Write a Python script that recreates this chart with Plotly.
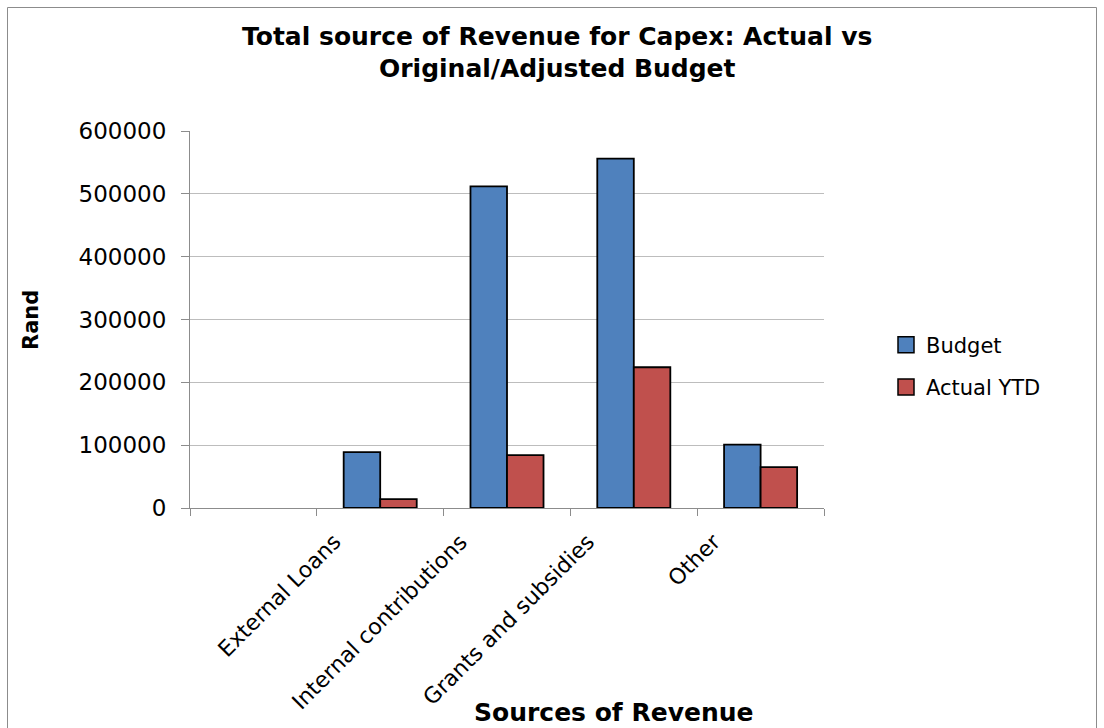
import plotly.graph_objects as go

# Revenue sources for capital expenditure (Rand); the first slot is left empty
categories = [" ", "External Loans", "Internal contributions", "Grants and subsidies", "Other"]
budget = [None, 89000, 512000, 556000, 101000]
actual_ytd = [None, 14000, 84000, 224000, 65000]
y_ticks = [0, 100000, 200000, 300000, 400000, 500000, 600000]

BLUE = "#4F81BD"
RED = "#C0504D"
GRID = "#BDBDBD"

W, H = 1104, 728
L, R, T, B = 190, 280, 131, 220
PW, PH = W - L - R, H - T - B


def px_x(px):
    return (px - L) / PW


def px_y(py):
    return (H - B - py) / PH


fig = go.Figure()
fig.add_trace(go.Bar(x=categories, y=budget, name="Budget", marker=dict(color=BLUE, line=dict(color="black", width=1.8)), showlegend=False))
fig.add_trace(go.Bar(x=categories, y=actual_ytd, name="Actual YTD", marker=dict(color=RED, line=dict(color="black", width=1.8)), showlegend=False))

# legend entries with larger square swatches
for name, col in [("Budget", BLUE), ("Actual YTD", RED)]:
    fig.add_trace(go.Scatter(x=[None], y=[None], mode="markers", name=name, legendgroup=name,
                             marker=dict(symbol="square", size=16, color=col, line=dict(color="black", width=1.5))))

ytick_font = dict(family="DejaVu Sans", size=23, color="black")
xtick_font = dict(family="DejaVu Sans", size=22, color="black")

fig.update_layout(
    width=W, height=H,
    margin=dict(l=L, r=R, t=T, b=B),
    paper_bgcolor="white", plot_bgcolor="white",
    barmode="group", bargap=0.424, bargroupgap=0,
    showlegend=True,
    legend=dict(x=px_x(886), y=px_y(366), xanchor="left", yanchor="middle",
                font=dict(family="DejaVu Sans", size=21, color="black"),
                tracegroupgap=12, bgcolor="rgba(0,0,0,0)"),
    xaxis=dict(type="category", categoryorder="array", categoryarray=categories,
               range=[-0.5, len(categories) - 0.5], showticklabels=False,
               tickson="boundaries", ticks="outside", ticklen=7, tickcolor="#8c8c8c",
               showline=True, linecolor="#8c8c8c", linewidth=1, showgrid=False, zeroline=False),
    yaxis=dict(range=[0, 600000], tickvals=y_ticks, tickformat="d", tickfont=ytick_font,
               ticks="outside", ticklen=8, tickcolor="#8c8c8c", ticklabelstandoff=10,
               showgrid=True, gridcolor=GRID, gridwidth=1,
               showline=True, linecolor="#8c8c8c", linewidth=1, zeroline=False),
)

title_font = dict(family="DejaVu Sans", size=25, color="black")
annotations = [
    dict(text="<b>Total source of Revenue for Capex: Actual vs</b>", x=px_x(557), y=px_y(36),
         xref="paper", yref="paper", xanchor="center", yanchor="middle", showarrow=False, font=title_font),
    dict(text="<b>Original/Adjusted Budget</b>", x=px_x(557), y=px_y(69),
         xref="paper", yref="paper", xanchor="center", yanchor="middle", showarrow=False, font=title_font),
    dict(text="<b>Sources of Revenue</b>", x=px_x(613), y=px_y(712),
         xref="paper", yref="paper", xanchor="center", yanchor="middle", showarrow=False,
         font=dict(family="DejaVu Sans", size=25, color="black")),
    dict(text="<b>Rand</b>", x=px_x(31), y=px_y(320), textangle=-90,
         xref="paper", yref="paper", xanchor="center", yanchor="middle", showarrow=False,
         font=dict(family="DejaVu Sans", size=21, color="black")),
]

# slanted category labels
for i, cat in enumerate(categories):
    if not cat.strip():
        continue
    annotations.append(dict(text=cat, x=i - 0.25, y=px_y(526), xref="x", yref="paper",
                            xanchor="right", yanchor="top", textangle=-45, showarrow=False,
                            font=xtick_font))

fig.update_layout(annotations=annotations)

# chart frame
fig.add_shape(type="rect", xref="paper", yref="paper",
              x0=px_x(7.5), x1=px_x(1096.5), y0=px_y(745), y1=px_y(7.5),
              line=dict(color="#8c8c8c", width=1), fillcolor="rgba(0,0,0,0)", layer="below")

fig.write_html("out.html")
